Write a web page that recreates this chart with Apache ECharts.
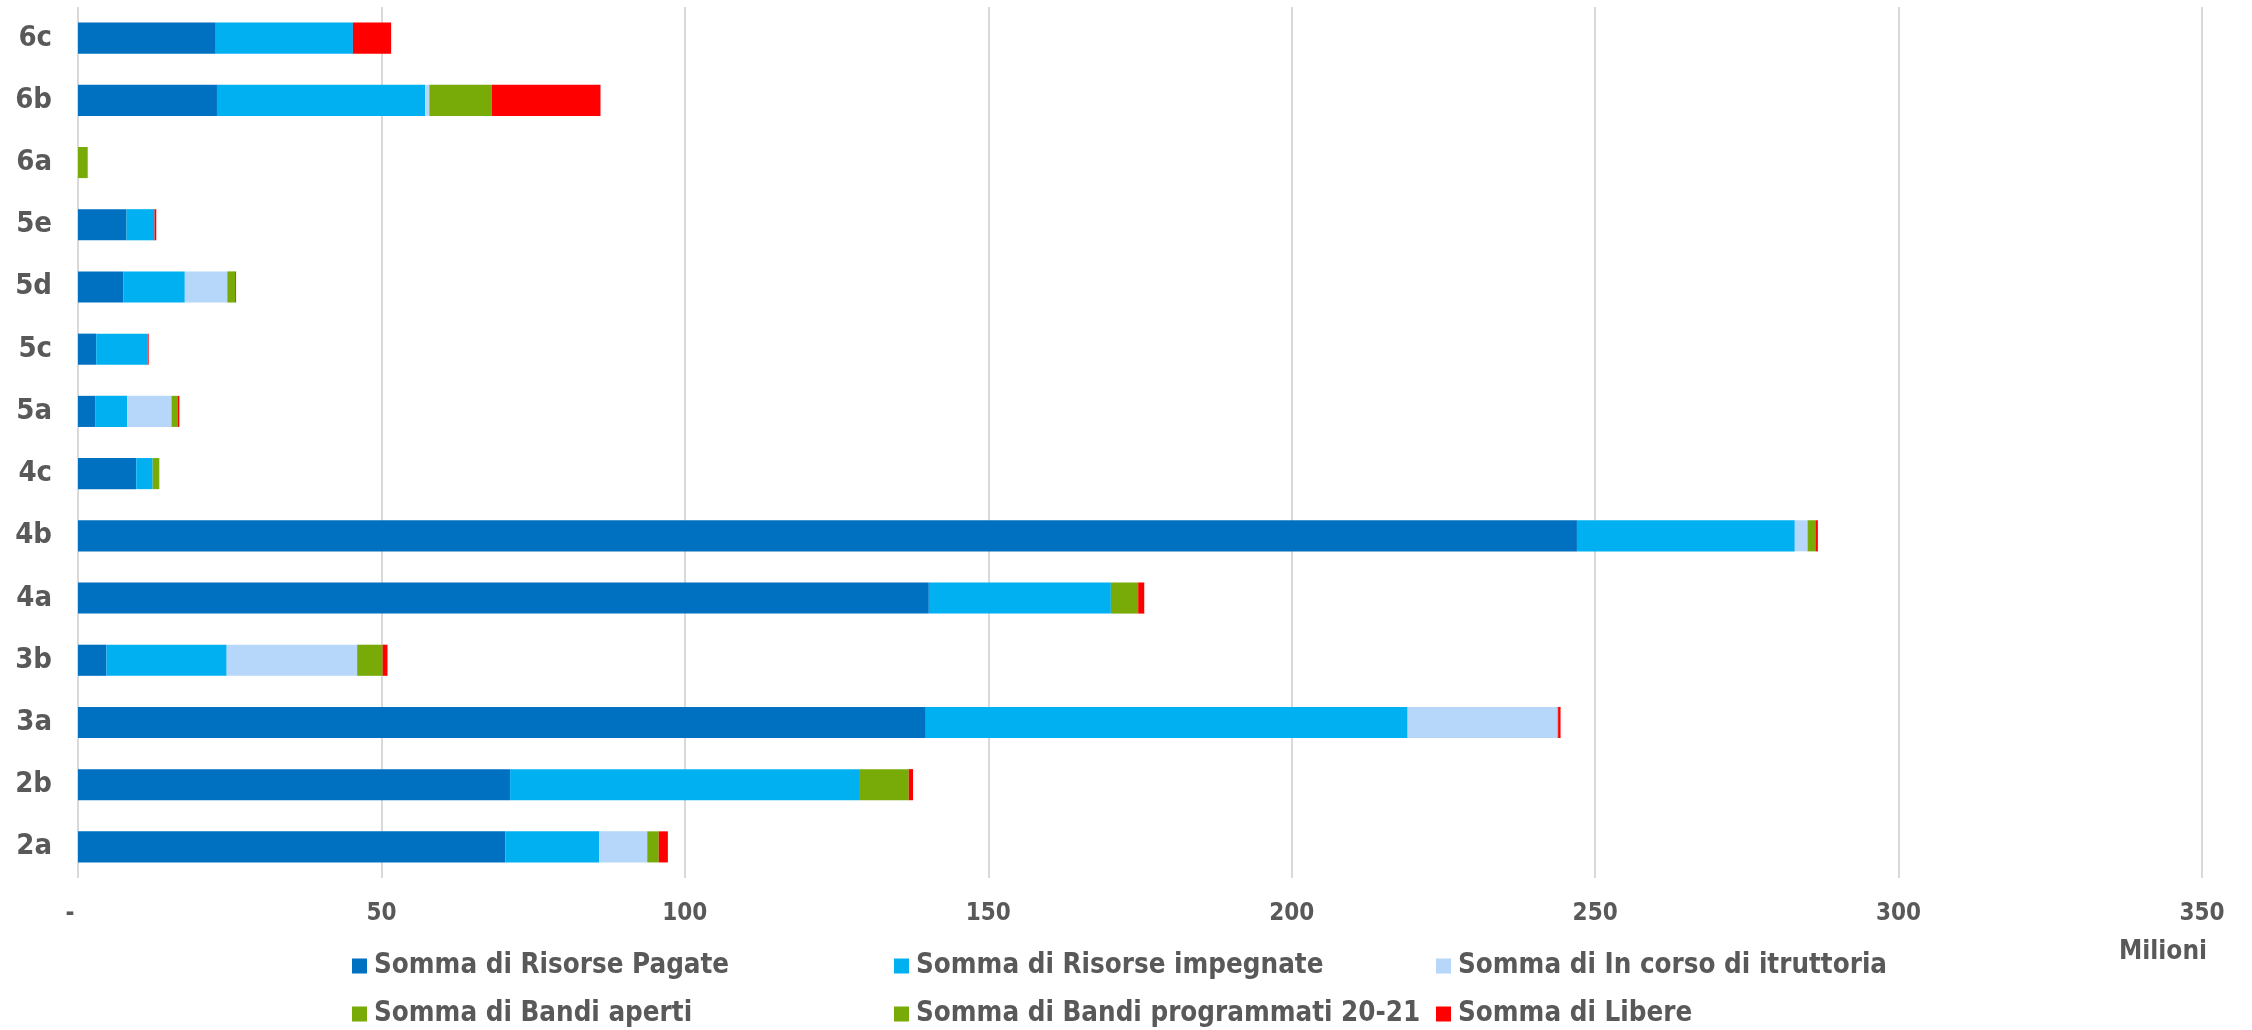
<!DOCTYPE html>
<html>
<head>
<meta charset="utf-8">
<script src="https://cdn.jsdelivr.net/npm/echarts@6/dist/echarts.min.js"></script>
<style>
html,body{margin:0;padding:0;background:#fff;}
#chart{width:2252px;height:1030px;}
</style>
</head>
<body>
<div id="chart"></div>
<script>
// Categories (bottom to top as drawn)
const categories = ['2a','2b','3a','3b','4a','4b','4c','5a','5c','5d','5e','6a','6b','6c'];
// Values in millions
const risorsePagate      = [70.4, 71.2, 139.7, 4.7, 140.2, 247.0, 9.6, 2.9, 3.0, 7.45, 8.0, 0, 22.9, 22.7];
const risorseImpegnate   = [15.5, 57.5, 79.4, 19.8, 30.0, 35.9, 2.7, 5.2, 8.5, 10.15, 4.6, 0, 34.3, 22.6];
const inCorsoIstruttoria = [7.9, 0, 24.7, 21.5, 0, 2.1, 0, 7.3, 0, 7.0, 0, 0, 0.7, 0];
const bandiAperti        = [1.9, 8.2, 0.1, 4.2, 4.5, 1.3, 1.1, 1.0, 0, 1.3, 0, 1.6, 10.3, 0];
const bandiProgrammati   = [0, 0, 0, 0, 0, 0, 0, 0, 0, 0, 0, 0, 0, 0];
const libere             = [1.5, 0.7, 0.4, 0.8, 1.0, 0.4, 0, 0.3, 0.15, 0.15, 0.3, 0, 17.9, 6.3];
const tickLabels = ['-', '50', '100', '150', '200', '250', '300', '350'];

const seriesNames = ['Somma di Risorse Pagate','Somma di Risorse impegnate','Somma di In corso di itruttoria',
  'Somma di Bandi aperti','Somma di Bandi programmati 20-21','Somma di Libere'];
const seriesData = [risorsePagate, risorseImpegnate, inCorsoIstruttoria, bandiAperti, bandiProgrammati, libere];
const colors = ['#0070C0','#00B0F0','#B6D7FA','#78AA08','#78AA08','#FF0000'];

const FONT = '"DejaVu Sans Condensed", "DejaVu Sans", Verdana, sans-serif';
const TXT = '#595959';

const chart = echarts.init(document.getElementById('chart'));

const legendPos = [
  {left: 352, top: 952}, {left: 894, top: 952}, {left: 1436, top: 952},
  {left: 352, top: 1000}, {left: 894, top: 1000}, {left: 1436, top: 1000}
];

const option = {
  animation: false,
  backgroundColor: '#fff',
  color: colors,
  grid: {left: 78, right: 50, top: 7, bottom: 152, containLabel: false},
  xAxis: {
    type: 'value', min: 0, max: 350, interval: 50,
    axisLine: {show: false}, axisTick: {show: false},
    splitLine: {show: true, lineStyle: {color: '#D9D9D9', width: 2}},
    axisLabel: {
      margin: 24, color: TXT, fontFamily: FONT, fontWeight: 'bold', fontSize: 24,
      formatter: function (v) {
        const t = tickLabels[Math.round(v / 50)];
        return v === 0 ? '{dash|' + t + '}' : t;
      },
      rich: {dash: {color: TXT, fontFamily: FONT, fontWeight: 'bold', fontSize: 24, padding: [0, 16, 0, 0]}}
    }
  },
  yAxis: {
    type: 'category', data: categories,
    axisLine: {show: false}, axisTick: {show: false},
    axisLabel: {margin: 26, color: TXT, fontFamily: FONT, fontWeight: 'bold', fontSize: 29}
  },
  legend: seriesNames.map((n, i) => ({
    data: [n], left: legendPos[i].left, top: legendPos[i].top,
    icon: 'rect', itemWidth: 15, itemHeight: 15, itemGap: 0, padding: 0,
    textStyle: {color: TXT, fontFamily: FONT, fontWeight: 'bold', fontSize: 27.5, padding: [0,0,0,2]}
  })),
  graphic: [{
    type: 'text', left: 2119, top: 939,
    style: {text: 'Milioni', fill: TXT, font: 'bold 26px "DejaVu Sans Condensed", "DejaVu Sans", Verdana, sans-serif'}
  }],
  series: seriesNames.map((n, i) => ({
    name: n, type: 'bar', stack: 'total', barWidth: '50%',
    data: seriesData[i],
    itemStyle: {color: colors[i]},
    emphasis: {disabled: true}
  }))
};
chart.setOption(option);
</script>
</body>
</html>
